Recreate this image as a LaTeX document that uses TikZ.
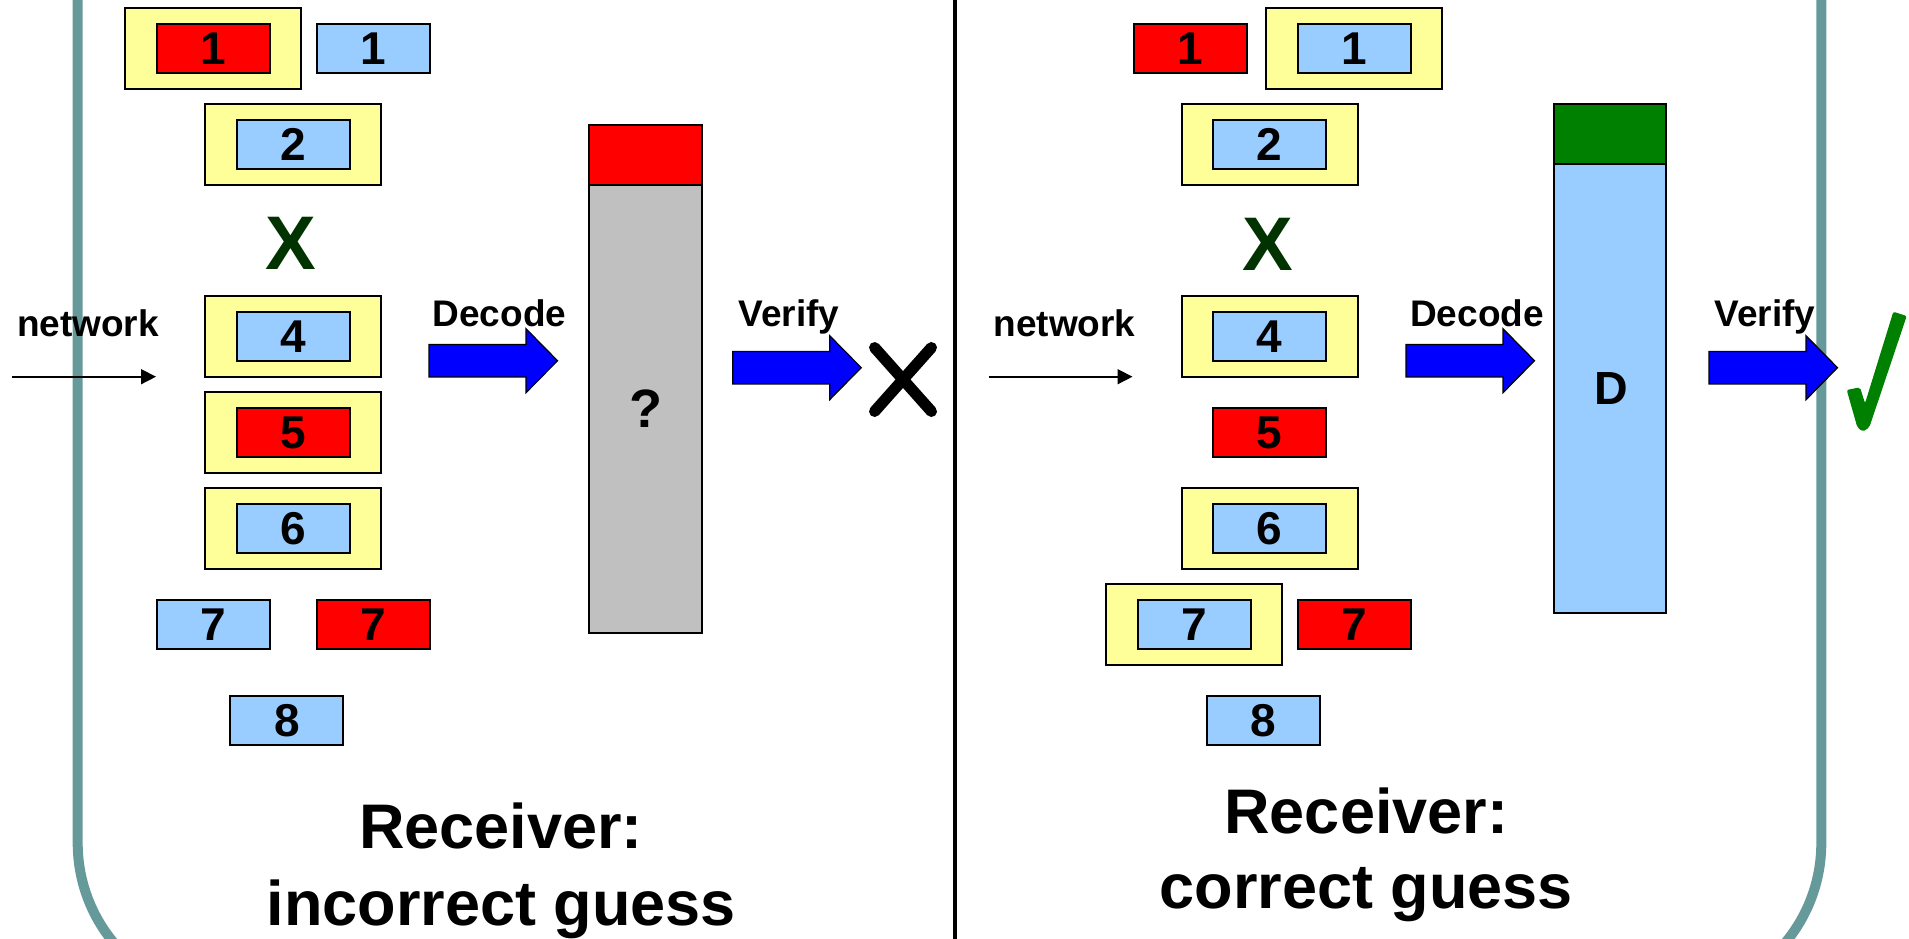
\documentclass[tikz,border=0pt]{standalone}
\usepackage{fontspec}
\setmainfont{Liberation Sans}
\usetikzlibrary{arrows.meta}
\definecolor{framecol}{RGB}{102,153,153}
\definecolor{pyellow}{RGB}{255,255,153}
\definecolor{pblue}{RGB}{153,204,255}
\definecolor{pred}{RGB}{255,0,0}
\definecolor{pgray}{RGB}{192,192,192}
\definecolor{okgreen}{RGB}{0,128,0}
\definecolor{lossgreen}{RGB}{0,51,0}
\definecolor{arrowblue}{RGB}{0,0,255}
\tikzset{
  blockarrow/.pic={
    \draw[line width=0.6pt, fill=arrowblue]
      (0,-16.2) -- (97,-16.2) -- (97,-32) -- (128.5,0) -- (97,32) -- (97,16.2) -- (0,16.2) -- cycle;
  }
}
\begin{document}
\begin{tikzpicture}[x=0.5pt,y=-0.5pt,
  every node/.style={inner sep=0pt, outer sep=0pt},
  pkt/.style={draw=black, line width=1pt, minimum width=56.5pt, minimum height=24.5pt,
              font=\fontsize{23}{23}\selectfont\bfseries},
  bluepkt/.style={pkt, fill=pblue},
  redpkt/.style={pkt, fill=pred},
  held/.style={draw=black, line width=1pt, fill=pyellow, minimum width=88pt, minimum height=40.5pt},
  lbl/.style={font=\fontsize{18.5}{18.5}\selectfont\bfseries, anchor=base},
  title/.style={font=\fontsize{31.5}{31.5}\selectfont\bfseries, anchor=base},
  lost/.style={font=\fontsize{38}{38}\selectfont\bfseries, text=lossgreen},
  netarrow/.style={line width=0.8pt, -{Triangle[length=7.5pt,width=7.5pt]}},
  barpart/.style={draw=black, line width=1pt, minimum width=56.2pt, anchor=north},
  failmark/.style={line width=5.6pt, line cap=round}
]
\useasboundingbox (0,0) rectangle (1909,938);
\clip (0,0) rectangle (1909,938);

% outer rounded frame and the divider between the two receivers
\draw[line width=5pt, framecol, rounded corners=78pt] (77.7,-300) rectangle (1821.3,999);
\draw[line width=2pt] (955.3,-10) -- (955.3,948);

% ---------- left receiver: incorrect guess ----------
\node[held] (hL1) at (213.3,48.8) {};
\node[redpkt] (pL1r) at (213.5,48.8) {1};
\node[bluepkt] (pL1b) at (373.3,48.8) {1};
\node[held] (hL2) at (293,144.7) {};
\node[bluepkt] (pL2) at (293.5,144.7) {2};
\node[lost] (xL3) at (291.2,243) {X};
\node[held] (hL4) at (293,336.7) {};
\node[bluepkt] (pL4) at (293.5,336.7) {4};
\node[held] (hL5) at (293,432.7) {};
\node[redpkt] (pL5) at (293.5,432.7) {5};
\node[held] (hL6) at (293,528.7) {};
\node[bluepkt] (pL6) at (293.5,528.7) {6};
\node[bluepkt] (pL7b) at (213.5,624.8) {7};
\node[redpkt] (pL7r) at (373.3,624.8) {7};
\node[bluepkt] (pL8) at (286.8,720.8) {8};

\node[lbl] (netL) at (88,336.5) {network};
\coordinate (inL0) at (12,376.7);
\coordinate (inL1) at (156,376.7);
\draw[netarrow] (inL0) -- (inL1);

\node[lbl] (decL) at (499.5,326) {Decode};
\pic at (429,360.7) {blockarrow};

\node[barpart, fill=pred, minimum height=29.85pt] (capL) at (645.5,125) {};
\node[barpart, fill=pgray, minimum height=224.15pt] (bodyL) at (645.5,184.7) {};
\node[font=\fontsize{27}{27}\selectfont\bfseries] (qm) at (645.7,409) {?};

\node[lbl] (verL) at (789,326) {Verify};
\pic at (732.7,367.7) {blockarrow};

\draw[failmark] (874.6,347.6) -- (931.4,411.4);
\draw[failmark] (931.4,347.6) -- (874.6,411.4);

\node[title] (tL1) at (501,848) {Receiver:};
\node[title] (tL2) at (501.5,925) {incorrect guess};

% ---------- right receiver: correct guess ----------
\node[redpkt] (pR1r) at (1190,48.8) {1};
\node[held] (hR1) at (1354,48.8) {};
\node[bluepkt] (pR1b) at (1354.3,48.8) {1};
\node[held] (hR2) at (1269.7,144.7) {};
\node[bluepkt] (pR2) at (1269.5,144.7) {2};
\node[lost] (xR3) at (1268,244) {X};
\node[held] (hR4) at (1269.7,336.7) {};
\node[bluepkt] (pR4) at (1269.5,336.7) {4};
\node[redpkt] (pR5) at (1269.5,432.7) {5};
\node[held] (hR6) at (1269.7,528.7) {};
\node[bluepkt] (pR6) at (1269.5,528.7) {6};
\node[held] (hR7) at (1194,624.8) {};
\node[bluepkt] (pR7b) at (1194.4,624.8) {7};
\node[redpkt] (pR7r) at (1354.3,624.8) {7};
\node[bluepkt] (pR8) at (1263.5,720.7) {8};

\node[lbl] (netR) at (1064.5,336.5) {network};
\coordinate (inR0) at (988.6,376.7);
\coordinate (inR1) at (1132.5,376.7);
\draw[netarrow] (inR0) -- (inR1);

\node[lbl] (decR) at (1477,326) {Decode};
\pic at (1406,360.7) {blockarrow};

\node[barpart, fill=okgreen, minimum height=30pt] (capR) at (1610.25,104.3) {};
\node[barpart, fill=pblue, minimum height=224.2pt] (bodyR) at (1610.25,164.3) {};
\node[font=\fontsize{23.25}{23.25}\selectfont\bfseries] (dR) at (1611.5,388.3) {D};

\node[lbl] (verR) at (1765,326) {Verify};
\pic at (1709,367.7) {blockarrow};

\fill[okgreen, rounded corners=1pt]
  (1846.7,390) -- (1860,387.3) -- (1865,403.3) -- (1893.3,311.7) -- (1906.7,316)
  -- (1869.3,427.3) -- (1862.7,431.7) -- (1857.3,427.3) -- cycle;

\node[title] (tR1) at (1366.3,833.3) {Receiver:};
\node[title] (tR2) at (1366.3,908.3) {correct guess};
\end{tikzpicture}
\end{document}
